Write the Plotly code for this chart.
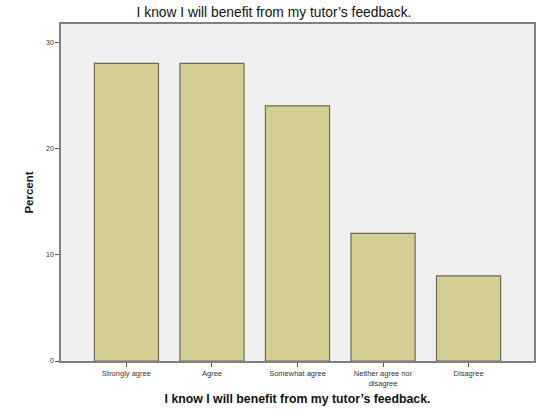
import plotly.graph_objects as go

# Response categories and their share of respondents (%)
categories = ["Strongly agree", "Agree", "Somewhat agree",
              "Neither agree nor<br>disagree", "Disagree"]
percent = [28, 28, 24, 12, 8]
y_ticks = [0, 10, 20, 30]

question = "I know I will benefit from my tutor\u2019s feedback."

fig = go.Figure(
    go.Bar(
        x=list(range(len(categories))),
        y=percent,
        width=0.75,
        marker=dict(color="#D3CE93", line=dict(color="#6E6A55", width=1.2)),
        hoverinfo="skip",
    )
)

fig.update_layout(
    width=541,
    height=409,
    margin=dict(l=61, r=7, t=24, b=48),
    paper_bgcolor="white",
    plot_bgcolor="#F0F0F0",
    font=dict(family="Liberation Sans, Arial, sans-serif", color="#222222"),
    showlegend=False,
    title=dict(
        text=question,
        x=274 / 541,
        xanchor="center",
        y=1 - 12 / 409,
        yanchor="middle",
        font=dict(size=13.8, color="#111111"),
    ),
)

fig.update_xaxes(
    range=[-0.765, 4.765],
    tickmode="array",
    tickvals=list(range(len(categories))),
    ticktext=categories,
    tickangle=0,
    ticks="outside",
    ticklen=4,
    tickcolor="#555555",
    tickfont=dict(size=7.5, color="#333333"),
    showgrid=False,
    zeroline=False,
    showline=True,
    linecolor="#808080",
    linewidth=1.5,
    mirror=True,
    automargin=False,
    title=dict(text="<b>" + question + "</b>", font=dict(size=12.3, color="#111111"), standoff=8),
)

fig.update_yaxes(
    range=[0, 31.7],
    tickmode="array",
    tickvals=y_ticks,
    ticktext=[str(v) for v in y_ticks],
    ticks="outside",
    ticklen=4,
    tickcolor="#555555",
    tickfont=dict(size=7, color="#333333"),
    showgrid=False,
    zeroline=False,
    showline=True,
    linecolor="#808080",
    linewidth=1.5,
    mirror=True,
    automargin=False,
    title=dict(text="<b>Percent</b>", font=dict(size=11.5, color="#111111"), standoff=10),
)

fig.write_html("out.html")
